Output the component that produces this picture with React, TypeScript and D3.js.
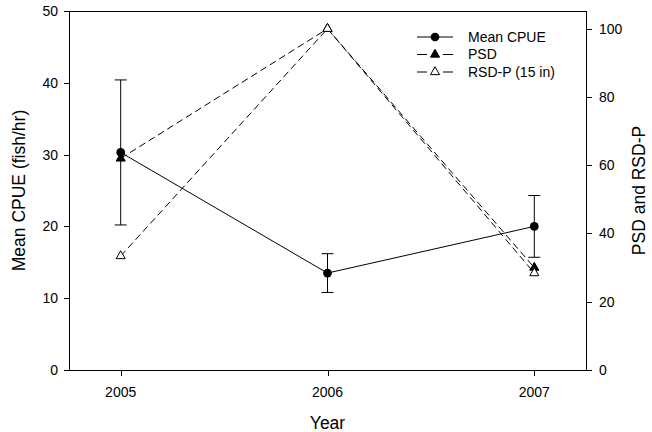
import React from "react";
import * as d3 from "d3";

// Survey years and catch statistics
const years = [2005, 2006, 2007];
const meanCpue = [30.3, 13.5, 20.0];
const cpueError = [10.1, 2.7, 4.3];
const psd = [62, 100, 30];
const rsdP = [33.4, 100, 28.4];

const leftTicks = [0, 10, 20, 30, 40, 50];
const rightTicks = [0, 20, 40, 60, 80, 100];
const legendLabels = ["Mean CPUE", "PSD", "RSD-P (15 in)"];

const W = 652;
const H = 432;
const plot = { left: 69, right: 586, top: 11, bottom: 370 };
const FONT = "'Liberation Sans', Arial, sans-serif";

export default function App() {
  const x = d3.scaleLinear().domain([2004.75, 2007.25]).range([plot.left, plot.right]);
  const yL = d3.scaleLinear().domain([0, 50]).range([plot.bottom, plot.top]);
  const yR = d3.scaleLinear().domain([0, 105.2]).range([plot.bottom, plot.top]);

  const cpueLine = d3
    .line<number>()
    .x((_, i) => x(years[i]))
    .y((d) => yL(d));
  const rightLine = d3
    .line<number>()
    .x((_, i) => x(years[i]))
    .y((d) => yR(d));

  const circle = d3.symbol().type(d3.symbolCircle).size(60)()!;
  const tri = d3.symbol().type(d3.symbolTriangle).size(36)()!;

  const dash = "7,4";
  const legendY = [37, 54.5, 72];
  const lx0 = 417;
  const lx1 = 453;
  const lmid = (lx0 + lx1) / 2;

  return (
    <svg
      width={W}
      height={H}
      style={{ position: "fixed", left: 0, top: 0, background: "#fff" }}
      fontFamily={FONT}
    >
      <rect width={W} height={H} fill="#fff" />

      {/* frame */}
      <line x1={plot.left} x2={plot.right} y1={plot.top + 0.5} y2={plot.top + 0.5} stroke="#000" />
      <line x1={plot.left} x2={plot.right} y1={plot.bottom + 0.5} y2={plot.bottom + 0.5} stroke="#000" />
      <line x1={plot.left + 0.5} x2={plot.left + 0.5} y1={plot.top} y2={plot.bottom + 1} stroke="#000" />
      <line x1={plot.right + 0.5} x2={plot.right + 0.5} y1={plot.top} y2={plot.bottom + 1} stroke="#000" />

      {/* left axis */}
      {leftTicks.map((t) => (
        <g key={"l" + t}>
          <line x1={plot.left - 5} x2={plot.left} y1={Math.round(yL(t)) + 0.5} y2={Math.round(yL(t)) + 0.5} stroke="#000" />
          <text x={plot.left - 11} y={yL(t)} dy="0.35em" textAnchor="end" fontSize={14}>
            {t}
          </text>
        </g>
      ))}

      {/* right axis */}
      {rightTicks.map((t) => (
        <g key={"r" + t}>
          <line x1={plot.right} x2={plot.right + 6} y1={Math.round(yR(t)) + 0.5} y2={Math.round(yR(t)) + 0.5} stroke="#000" />
          <text x={plot.right + 13} y={yR(t)} dy="0.35em" textAnchor="start" fontSize={14}>
            {t}
          </text>
        </g>
      ))}

      {/* bottom axis */}
      {years.map((yr) => (
        <g key={"x" + yr}>
          <line x1={Math.round(x(yr)) + 0.5} x2={Math.round(x(yr)) + 0.5} y1={plot.bottom} y2={plot.bottom + 6} stroke="#000" />
          <text x={x(yr)} y={392} dy="0.35em" textAnchor="middle" fontSize={14}>
            {yr}
          </text>
        </g>
      ))}

      {/* axis titles */}
      <text x={(plot.left + plot.right) / 2} y={423} dy="0.35em" textAnchor="middle" fontSize={17.5}>
        Year
      </text>
      <text
        transform={`translate(19, ${(plot.top + plot.bottom) / 2}) rotate(-90)`}
        dy="0.35em"
        textAnchor="middle"
        fontSize={17.5}
      >
        Mean CPUE (fish/hr)
      </text>
      <text
        transform={`translate(639, ${(plot.top + plot.bottom) / 2}) rotate(-90)`}
        dy="0.35em"
        textAnchor="middle"
        fontSize={17.5}
      >
        PSD and RSD-P
      </text>

      {/* PSD and RSD-P dashed series */}
      <path d={rightLine(psd)!} fill="none" stroke="#000" strokeDasharray={dash} />
      <path d={rightLine(rsdP)!} fill="none" stroke="#000" strokeDasharray={dash} />

      {/* Mean CPUE with error bars */}
      <path d={cpueLine(meanCpue)!} fill="none" stroke="#000" />
      {years.map((yr, i) => {
        const cx = x(yr);
        const top = yL(meanCpue[i] + cpueError[i]);
        const bot = yL(meanCpue[i] - cpueError[i]);
        return (
          <g key={"e" + yr} stroke="#000">
            <line x1={cx} x2={cx} y1={top} y2={bot} />
            <line x1={cx - 6} x2={cx + 6} y1={top} y2={top} />
            <line x1={cx - 6} x2={cx + 6} y1={bot} y2={bot} />
          </g>
        );
      })}

      {/* markers */}
      {years.map((yr, i) => (
        <path key={"c" + yr} d={circle} transform={`translate(${x(yr)},${yL(meanCpue[i])})`} fill="#000" />
      ))}
      {years.map((yr, i) => (
        <path key={"p" + yr} d={tri} transform={`translate(${x(yr)},${yR(psd[i])})`} fill="#000" stroke="#000" />
      ))}
      {years.map((yr, i) => (
        <path key={"s" + yr} d={tri} transform={`translate(${x(yr)},${yR(rsdP[i])})`} fill="#fff" stroke="#000" />
      ))}

      {/* legend */}
      <g>
        <line x1={lx0} x2={lx1} y1={legendY[0]} y2={legendY[0]} stroke="#000" />
        <path d={circle} transform={`translate(${lmid},${legendY[0]})`} fill="#000" />

        <line x1={lx0} x2={lx0 + 10} y1={legendY[1]} y2={legendY[1]} stroke="#000" />
        <line x1={lx1 - 10} x2={lx1} y1={legendY[1]} y2={legendY[1]} stroke="#000" />
        <path d={tri} transform={`translate(${lmid},${legendY[1]})`} fill="#000" stroke="#000" />

        <line x1={lx0} x2={lx0 + 10} y1={legendY[2]} y2={legendY[2]} stroke="#000" />
        <line x1={lx1 - 10} x2={lx1} y1={legendY[2]} y2={legendY[2]} stroke="#000" />
        <path d={tri} transform={`translate(${lmid},${legendY[2]})`} fill="#fff" stroke="#000" />

        {legendLabels.map((lab, i) => (
          <text key={lab} x={468} y={legendY[i]} dy="0.35em" fontSize={14}>
            {lab}
          </text>
        ))}
      </g>
    </svg>
  );
}
